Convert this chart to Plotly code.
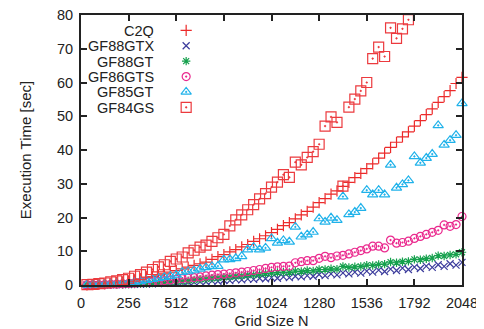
import plotly.graph_objects as go

# ---- data -------------------------------------------------------------
grid_n = [32, 64, 96, 128, 160, 192, 224, 256, 288, 320, 352, 384, 416, 448, 480, 512,
          544, 576, 608, 640, 672, 704, 736, 768, 800, 832, 864, 896, 928, 960, 992, 1024,
          1056, 1088, 1120, 1152, 1184, 1216, 1248, 1280, 1312, 1344, 1376, 1408, 1440, 1472, 1504, 1536,
          1568, 1600, 1632, 1664, 1696, 1728, 1760, 1792, 1824, 1856, 1888, 1920, 1952, 1984, 2016, 2048]

c2q = [0.05, 0.1, 0.2, 0.3, 0.5, 0.7, 0.9, 1.2, 1.5, 1.8, 2.1, 2.5, 2.9, 3.3, 3.8, 4.3,
       4.8, 5.3, 5.8, 6.3, 6.8, 7.6, 8.4, 9.0, 9.8, 10.5, 11.3, 12.0, 12.9, 13.7, 14.6, 15.5,
       16.5, 17.6, 18.5, 19.6, 20.8, 21.8, 23.1, 24.4, 25.6, 26.9, 27.9, 29.2, 30.4, 31.8, 33.1, 34.5,
       35.9, 37.6, 39.1, 40.8, 42.3, 43.9, 45.4, 47.1, 48.7, 50.5, 52.2, 54.1, 55.8, 57.6, 59.7, 61.5]

gf88gtx = [0.01, 0.02, 0.03, 0.05, 0.07, 0.09, 0.12, 0.15, 0.2, 0.25, 0.3, 0.36, 0.42, 0.5, 0.55, 0.65,
           0.7, 0.82, 0.85, 1.0, 0.95, 1.2, 1.1, 1.4, 1.3, 1.6, 1.5, 1.8, 1.65, 2.0, 1.85, 2.2,
           2.0, 2.4, 2.2, 2.6, 2.4, 2.8, 2.6, 3.1, 2.8, 3.3, 3.0, 3.6, 3.3, 3.8, 3.5, 4.1,
           3.8, 4.4, 4.0, 4.7, 4.3, 5.0, 4.6, 5.3, 4.9, 5.6, 5.2, 6.0, 5.5, 6.3, 5.9, 6.7]

gf88gt = [0.01, 0.02, 0.04, 0.06, 0.08, 0.1, 0.15, 0.2, 0.3, 0.35, 0.45, 0.55, 0.65, 0.75, 0.9, 1.0,
          1.15, 1.3, 1.5, 1.7, 1.8, 2.0, 2.1, 2.3, 2.4, 2.6, 2.7, 2.9, 3.0, 3.2, 3.4, 3.5,
          3.7, 3.8, 3.7, 4.1, 4.0, 4.3, 4.2, 4.6, 4.6, 4.8, 4.7, 5.5, 5.2, 5.4, 5.5, 5.9,
          5.8, 6.1, 6.2, 6.8, 6.6, 6.9, 7.0, 7.6, 7.5, 7.8, 8.0, 8.7, 8.6, 8.9, 9.1, 9.7]

gf86gts = [0.02, 0.04, 0.07, 0.12, 0.2, 0.25, 0.35, 0.45, 0.55, 0.7, 0.8, 0.9, 1.1, 1.3, 1.5, 1.7,
           1.9, 2.0, 2.2, 2.4, 2.7, 2.9, 3.1, 3.2, 3.4, 3.6, 3.8, 4.0, 4.3, 4.6, 4.9, 5.2,
           5.4, 5.5, 5.6, 6.6, 6.9, 7.2, 7.2, 7.9, 8.5, 8.1, 8.6, 8.8, 9.2, 9.7, 10.2, 10.7,
           11.5, 11.5, 11.0, 13.3, 12.4, 12.6, 13.0, 13.8, 14.4, 15.0, 15.6, 16.2, 17.8, 17.4, 17.9, 20.3]

gf85gt = [0.02, 0.05, 0.1, 0.2, 0.3, 0.4, 0.5, 0.7, 0.9, 1.1, 1.4, 1.7, 2.0, 2.3, 2.6, 3.0,
          3.8, 4.0, 4.3, 4.8, 5.2, 5.5, 5.6, 7.5, 7.6, 7.9, 8.5, 10.5, 11.2, 10.5, 11.0, 13.8,
          12.5, 13.2, 12.8, 17.2, 14.3, 14.9, 15.7, 19.7, 18.7, 19.9, 19.2, 26.2, 20.9, 21.6, 22.8, 28.1,
          26.8, 28.1, 26.8, 35.6, 28.8, 29.8, 31.0, 38.1, 36.2, 37.6, 38.8, 47.3, 41.5, 42.9, 44.4, 53.8]

gf84gs = [0.1, 0.2, 0.4, 0.6, 0.9, 1.2, 1.6, 2.0, 2.6, 3.1, 3.8, 4.6, 5.4, 6.0, 7.0, 7.7,
          8.3, 9.5, 10.3, 11.2, 11.8, 12.9, 14.0, 15.0, 17.5, 19.3, 20.8, 22.3, 23.8, 25.5, 27.1, 29.0,
          30.5, 32.7, 31.9, 36.4, 35.6, 37.8, 39.5, 41.7, 47.1, 49.8, 48.2, 29.3, 52.7, 55.1, 57.5, 60.0,
          67.1, 70.5, 67.7, 76.2, 73.1, 75.9, 78.6, 82.0, 84.5, 87.0, 89.5, 92.0, 95.0, 98.0, 101.0, 104.0]

series_names = ["C2Q", "GF88GTX", "GF88GT", "GF86GTS", "GF85GT", "GF84GS"]
series_values = [c2q, gf88gtx, gf88gt, gf86gts, gf85gt, gf84gs]

x_ticks = [0, 256, 512, 768, 1024, 1280, 1536, 1792, 2048]
y_ticks = [0, 10, 20, 30, 40, 50, 60, 70, 80]
x_max = 2048
y_max = 80

# ---- styles -----------------------------------------------------------
colors = ["#ec2a2a", "#3b3b9c", "#14a04c", "#ea2a8e", "#20b2ea", "#ec3a3e"]
symbols = ["cross-thin", "x-thin", "asterisk", "circle-open-dot", "triangle-up-open-dot", "square-open-dot"]
sizes = [8, 7, 7, 8, 9, 10]

FONT = "Liberation Sans, Arial, Helvetica, sans-serif"

fig = go.Figure()

for name, vals, col, sym, sz in zip(series_names, series_values, colors, symbols, sizes):
    shown = [v if v <= y_max else None for v in vals]
    fig.add_trace(go.Scatter(
        x=grid_n, y=shown, mode="markers", name=name, showlegend=False,
        cliponaxis=False,
        marker=dict(symbol=sym, size=sz, color=col, line=dict(color=col, width=1.2)),
    ))

# gnuplot-style key: text right-aligned, sample symbol to its right
key_x = 0.276
key_text_x = 0.195
key_top = 0.943
key_step = 0.057
for i, (name, col, sym, sz) in enumerate(zip(series_names, colors, symbols, sizes)):
    ky = key_top - i * key_step
    fig.add_trace(go.Scatter(
        x=[key_x], y=[ky], xaxis="x2", yaxis="y2", mode="markers", showlegend=False,
        hoverinfo="skip", cliponaxis=False,
        marker=dict(symbol=sym, size=sz, color=col, line=dict(color=col, width=1.2)),
    ))
    fig.add_annotation(x=key_text_x, y=ky, xref="paper", yref="paper", text=name,
                       showarrow=False, xanchor="right", yanchor="middle",
                       height=15, borderpad=0,
                       font=dict(family=FONT, size=14.5, color="#222"))

axis_common = dict(
    showgrid=False, zeroline=False, showline=True, linecolor="#222", linewidth=2,
    mirror="allticks", ticks="inside", ticklen=6, tickwidth=1.6, tickcolor="#222",
    ticklabeloverflow="allow",
    tickfont=dict(family=FONT, size=14.5, color="#222"),
)

# the page body adds an 8px offset, so the figure is sized to fit the 484x329 window
fig.update_layout(
    width=476, height=321,
    margin=dict(l=73, r=22, t=7, b=44),
    paper_bgcolor="white", plot_bgcolor="white",
    xaxis=dict(range=[0, x_max], tickmode="array", tickvals=x_ticks,
               ticklabelstandoff=4,
               title=dict(text="Grid Size N", standoff=12,
                          font=dict(family=FONT, size=14.5, color="#222")),
               automargin=False, **axis_common),
    yaxis=dict(range=[0, y_max], tickmode="array", tickvals=y_ticks,
               ticklabelstandoff=3,
               title=dict(text="Execution Time [sec]", standoff=22,
                          font=dict(family=FONT, size=15, color="#222")),
               automargin=False, **axis_common),
    xaxis2=dict(overlaying="x", range=[0, 1], visible=False, fixedrange=True),
    yaxis2=dict(overlaying="y", range=[0, 1], visible=False, fixedrange=True),
    showlegend=False,
)

fig.write_html("out.html")
